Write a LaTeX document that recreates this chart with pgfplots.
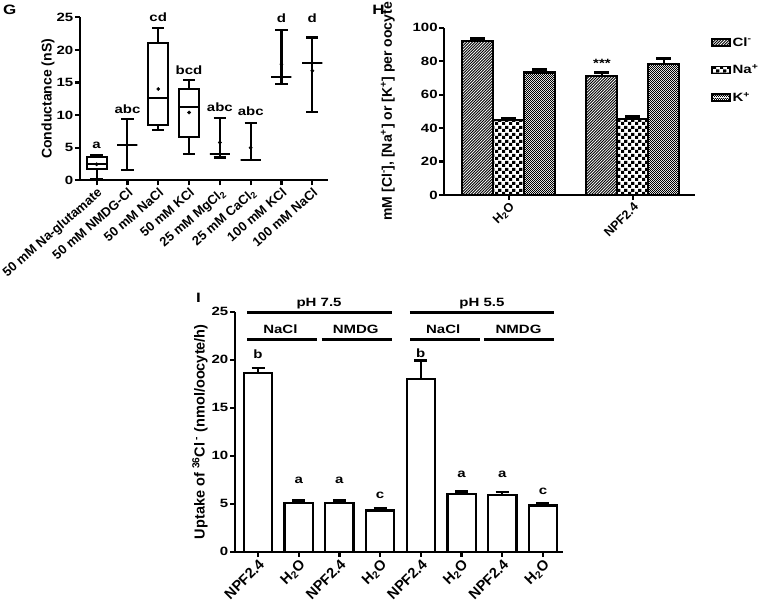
\documentclass[border=0pt]{standalone}
\usepackage{pgfplots}
\pgfplotsset{compat=1.18}
\usepgfplotslibrary{statistics}
\usetikzlibrary{patterns}
\usepackage{graphicx}
\usepackage{fontspec}
\setmainfont{Liberation Sans}

\newcommand{\sq}[1]{\scalebox{1}[0.8]{#1}}
\newcommand{\fT}{\fontsize{15}{17}\selectfont\bfseries}
\newcommand{\fY}{\fontsize{14}{16}\selectfont\bfseries}
\newcommand{\fP}{\fontsize{17}{19}\selectfont\bfseries}

% bar fills
\pgfdeclarepatternformonly{clhatch}{\pgfqpoint{-1pt}{-1pt}}{\pgfqpoint{4pt}{4pt}}{\pgfqpoint{2.8pt}{2.8pt}}{%
  \pgfsetlinewidth{0.9pt}%
  \pgfpathmoveto{\pgfqpoint{0pt}{0pt}}%
  \pgfpathlineto{\pgfqpoint{2.9pt}{2.9pt}}%
  \pgfusepath{stroke}}
\pgfdeclarepatternformonly{bigchecker}{\pgfqpoint{0pt}{0pt}}{\pgfqpoint{6.6pt}{6.6pt}}{\pgfqpoint{6.6pt}{6.6pt}}{%
  \pgfpathrectangle{\pgfqpoint{0pt}{0pt}}{\pgfqpoint{3.3pt}{3.3pt}}%
  \pgfpathrectangle{\pgfqpoint{3.3pt}{3.3pt}}{\pgfqpoint{3.3pt}{3.3pt}}%
  \pgfusepath{fill}}
\pgfdeclarepatternformonly{smallchecker}{\pgfqpoint{0pt}{0pt}}{\pgfqpoint{2.4pt}{2.4pt}}{\pgfqpoint{2.4pt}{2.4pt}}{%
  \pgfpathrectangle{\pgfqpoint{0pt}{0pt}}{\pgfqpoint{1.2pt}{1.2pt}}%
  \pgfpathrectangle{\pgfqpoint{1.2pt}{1.2pt}}{\pgfqpoint{1.2pt}{1.2pt}}%
  \pgfusepath{fill}}

\tikzset{lbl/.style={font=\fT, inner sep=0pt}}

\pgfplotsset{
  gp/.style={
    scale only axis, anchor=south west, clip=false,
    axis lines=left, axis line style={line width=2.2pt, -},
    tick align=outside, major tick length=5pt,
    tick style={line width=2.2pt, black},
    yticklabel={\sq{\pgfmathprintnumber[assume math mode=true]{\tick}}},
    yticklabel style={font=\fT, inner sep=1.5pt},
    ylabel style={font=\fY, anchor=center},
  },
  bx/.style={black, line width=2.1pt, solid},
  eb/.style={error bars/.cd, y dir=plus, y explicit,
    error bar style={line width=2.2pt, black},
    error mark=|, error mark options={line width=2.6pt, mark size=#1, black}},
}

\begin{document}
\begin{tikzpicture}
\useasboundingbox (0pt,0pt) rectangle (764pt,604pt);

% ---------------- G
\begin{axis}[gp, at={(80pt,423.7pt)}, width=248pt, height=163pt,
  xmin=-0.54, xmax=7.51, ymin=0, ymax=25, ytick={0,5,...,25},
  xtick={0,...,7},
  xticklabels={50 mM Na-glutamate, 50 mM NMDG-Cl, 50 mM NaCl, 50 mM KCl,
    25 mM MgCl\textsubscript{2}, 25 mM CaCl\textsubscript{2}, 100 mM KCl, 100 mM NaCl},
  xticklabel style={font=\fontsize{13}{15}\selectfont\bfseries, rotate=41, anchor=north east, inner sep=1pt},
  ylabel={Conductance (nS)},
  ylabel style={at={(axis description cs:-0.129,0.5)}},
  boxplot/draw direction=y,
  boxplot/box extend=0.65, boxplot/whisker extend=0.4]
\addplot[bx, boxplot prepared={draw position=0, lower whisker=0.25, lower quartile=1.7, median=2.45, upper quartile=3.6, upper whisker=3.8}] coordinates {};
\addplot[bx, boxplot prepared={draw position=1, lower whisker=1.55, lower quartile=5.4, median=5.4, upper quartile=5.4, upper whisker=9.4}] coordinates {};
\addplot[bx, boxplot prepared={draw position=2, lower whisker=7.7, lower quartile=8.5, median=12.6, upper quartile=21.0, upper whisker=23.3}] coordinates {};
\addplot[bx, boxplot prepared={draw position=3, lower whisker=4.1, lower quartile=6.6, median=11.2, upper quartile=14.0, upper whisker=15.4}] coordinates {};
\addplot[bx, boxplot prepared={draw position=4, lower whisker=3.5, lower quartile=4.1, median=4.1, upper quartile=4.1, upper whisker=9.6}] coordinates {};
\addplot[bx, boxplot prepared={draw position=5, lower whisker=3.05, lower quartile=3.05, median=3.05, upper quartile=3.05, upper whisker=8.8}] coordinates {};
\addplot[bx, boxplot prepared={draw position=6, lower whisker=14.7, lower quartile=15.8, median=15.8, upper quartile=15.8, upper whisker=23.0}] coordinates {};
\addplot[bx, boxplot prepared={draw position=7, lower whisker=10.5, lower quartile=18.0, median=18.0, upper quartile=18.0, upper whisker=21.9}] coordinates {};
% means
\addplot[only marks, mark=*, mark size=1.7pt, black] coordinates {(0,2.45) (2,14.0) (3,10.4) (4,5.8) (5,5.0) (6,17.8) (7,16.8)};
\node[lbl] at (axis cs:0,5.3) {\sq{a}};
\node[lbl] at (axis cs:1,10.9) {\sq{abc}};
\node[lbl] at (axis cs:2,25.0) {\sq{cd}};
\node[lbl] at (axis cs:3,16.9) {\sq{bcd}};
\node[lbl] at (axis cs:4,11.2) {\sq{abc}};
\node[lbl] at (axis cs:5,10.6) {\sq{abc}};
\node[lbl] at (axis cs:6,24.8) {\sq{d}};
\node[lbl] at (axis cs:7,24.8) {\sq{d}};
\end{axis}

% ---------------- H
\begin{axis}[gp, at={(444.3pt,409pt)}, width=250.7pt, height=167.3pt,
  xmin=-0.52, xmax=1.5, ymin=0, ymax=100, ytick={0,20,...,100},
  ybar=0pt, bar width=31pt,
  xtick={0,1}, xticklabels={H\textsubscript{2}O, NPF2.4},
  xticklabel style={font=\fontsize{12.5}{14}\selectfont\bfseries, rotate=45, anchor=north east, inner sep=1pt},
  ylabel={mM [Cl\textsuperscript{-}], [Na\textsuperscript{+}] or [K\textsuperscript{+}] per oocyte},
  ylabel style={at={(axis description cs:-0.225,0.5)}},
  legend image code/.code={\draw[#1,/tikz/.cd,line width=1.6pt] (0pt,-3.5pt) rectangle (18pt,3.5pt);},
  legend style={at={(1.063,0.955)}, anchor=north west, draw=none, fill=none,
    font=\fontsize{15}{17}\selectfont\bfseries, row sep=13pt, inner sep=0pt},
  legend cell align=left]
\addplot[draw=black, line width=2.1pt, pattern=clhatch, eb=7.5pt]
  coordinates {(0,92.0) +- (0,1.5) (1,71.1) +- (0,2.0)};
\addlegendentry{\sq{Cl\textsuperscript{-}}}
\addplot[draw=black, line width=2.1pt, pattern=bigchecker, eb=7.5pt]
  coordinates {(0,44.6) +- (0,1.3) (1,45.4) +- (0,1.5)};
\addlegendentry{\sq{Na\textsuperscript{+}}}
\addplot[draw=black, line width=2.1pt, pattern=smallchecker, eb=7.5pt]
  coordinates {(0,73.2) +- (0,1.8) (1,78.3) +- (0,3.4)};
\addlegendentry{\sq{K\textsuperscript{+}}}
\node[lbl] at (axis cs:0.75,78.5) {\sq{***}};
\end{axis}

% ---------------- I
\begin{axis}[gp, at={(235pt,52.3pt)}, width=328.3pt, height=240pt,
  xmin=-0.565, xmax=7.5, ymin=0, ymax=25, ytick={0,5,...,25},
  ybar, bar width=28.3pt,
  xtick={0,...,7},
  xticklabels={NPF2.4, H\textsubscript{2}O, NPF2.4, H\textsubscript{2}O, NPF2.4, H\textsubscript{2}O, NPF2.4, H\textsubscript{2}O},
  xticklabel style={font=\fontsize{14.5}{16}\selectfont\bfseries, rotate=45, anchor=north east, inner sep=1pt},
  ylabel={Uptake of \textsuperscript{36}Cl\,\textsuperscript{-} (nmol/oocyte/h)},
  ylabel style={at={(axis description cs:-0.107,0.5)}, font=\fontsize{14.5}{16}\selectfont\bfseries}]
\addplot[draw=black, fill=white, line width=2.3pt, eb=6.5pt]
  coordinates {(0,18.6) +- (0,0.55) (1,5.1) +- (0,0.22) (2,5.1) +- (0,0.22) (3,4.3) +- (0,0.17)
               (4,18.0) +- (0,1.9) (5,6.0) +- (0,0.3) (6,5.9) +- (0,0.3) (7,4.8) +- (0,0.25)};
% group brackets
\draw[line width=2.5pt] (axis cs:-0.27,24.9) -- (axis cs:3.28,24.9);
\draw[line width=2.5pt] (axis cs:3.73,24.9) -- (axis cs:7.28,24.9);
\draw[line width=2.5pt] (axis cs:-0.26,22.1) -- (axis cs:1.45,22.1);
\draw[line width=2.5pt] (axis cs:1.56,22.1) -- (axis cs:3.28,22.1);
\draw[line width=2.5pt] (axis cs:3.74,22.1) -- (axis cs:5.45,22.1);
\draw[line width=2.5pt] (axis cs:5.56,22.1) -- (axis cs:7.28,22.1);
\node[lbl] at (axis cs:1.5,25.85) {\sq{pH 7.5}};
\node[lbl] at (axis cs:5.5,25.85) {\sq{pH 5.5}};
\node[lbl] at (axis cs:0.55,23.15) {\sq{NaCl}};
\node[lbl] at (axis cs:2.4,23.15) {\sq{NMDG}};
\node[lbl] at (axis cs:4.55,23.15) {\sq{NaCl}};
\node[lbl] at (axis cs:6.4,23.15) {\sq{NMDG}};
% letters
\node[lbl] at (axis cs:0,20.6) {\sq{b}};
\node[lbl] at (axis cs:1,7.4) {\sq{a}};
\node[lbl] at (axis cs:2,7.4) {\sq{a}};
\node[lbl] at (axis cs:3,5.9) {\sq{c}};
\node[lbl] at (axis cs:4,20.7) {\sq{b}};
\node[lbl] at (axis cs:5,8.05) {\sq{a}};
\node[lbl] at (axis cs:6,8.05) {\sq{a}};
\node[lbl] at (axis cs:7,6.25) {\sq{c}};
\end{axis}

% panel letters
\node[font=\fP, inner sep=0pt] at (9.7pt,594pt) {\sq{G}};
\node[font=\fP, inner sep=0pt] at (378.5pt,594pt) {\sq{H}};
\node[font=\fP, inner sep=0pt] at (198.5pt,306pt) {\sq{I}};
\end{tikzpicture}
\end{document}
